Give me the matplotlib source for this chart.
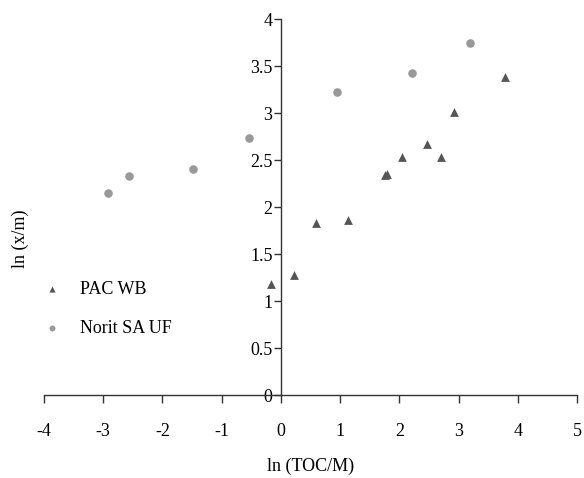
import matplotlib
matplotlib.use("Agg")
import matplotlib.pyplot as plt

# PAC WB (triangles)
pac_x = [-0.16, 0.22, 0.60, 1.13, 1.75, 1.80, 2.04, 2.47, 2.70, 2.93, 3.78]
pac_y = [1.18, 1.28, 1.83, 1.86, 2.34, 2.35, 2.53, 2.67, 2.53, 3.01, 3.38]

# Norit SA UF (circles)
norit_x = [-2.92, -2.57, -1.49, -0.54, 0.95, 2.22, 3.19]
norit_y = [2.15, 2.33, 2.40, 2.73, 3.22, 3.43, 3.74]

x_ticks = [-4, -3, -2, -1, 0, 1, 2, 3, 4, 5]
y_ticks = [0, 0.5, 1, 1.5, 2, 2.5, 3, 3.5, 4]

plt.rcParams["font.family"] = ["Liberation Serif", "DejaVu Serif"]

fig = plt.figure(figsize=(5.84, 4.78), dpi=100)
ax = fig.add_axes([0.0753, 0.1736, 0.9127, 0.7866])

ax.scatter(pac_x, pac_y, marker="^", s=40, color="#555555", linewidths=0,
           label="PAC WB", zorder=3)
ax.scatter(norit_x, norit_y, marker="o", s=38, color="#999999", linewidths=0,
           label="Norit SA UF", zorder=3)

ax.set_xlim(-4, 5)
ax.set_ylim(0, 4)
ax.set_xticks(x_ticks)
ax.set_yticks(y_ticks)
ax.set_xticklabels([f"{v:g}" for v in x_ticks])
ax.set_yticklabels([f"{v:g}" for v in y_ticks])

# axes cross at the origin
ax.spines["left"].set_position(("data", 0))
ax.spines["bottom"].set_position(("data", 0))
ax.spines["top"].set_visible(False)
ax.spines["right"].set_visible(False)
for side in ("left", "bottom"):
    ax.spines[side].set_color("#333333")
    ax.spines[side].set_linewidth(1.0)

ax.tick_params(axis="x", direction="out", length=6, width=1, color="#333333",
               labelsize=13, pad=14)
ax.tick_params(axis="y", direction="out", length=5, width=1, color="#333333",
               labelsize=13, pad=1)

ax.text(0.5, -0.19, "ln (TOC/M)", transform=ax.transAxes, ha="center", va="center",
        fontsize=13)
fig.text(0.035, 0.5, "ln (x/m)", rotation=90, ha="center", va="center", fontsize=13)

ax.legend(loc="center left", bbox_to_anchor=(-0.05, 0.229), frameon=False, fontsize=13,
          markerscale=0.7, handletextpad=0.55, labelspacing=1.2)

fig.savefig("out.png", dpi=100)
